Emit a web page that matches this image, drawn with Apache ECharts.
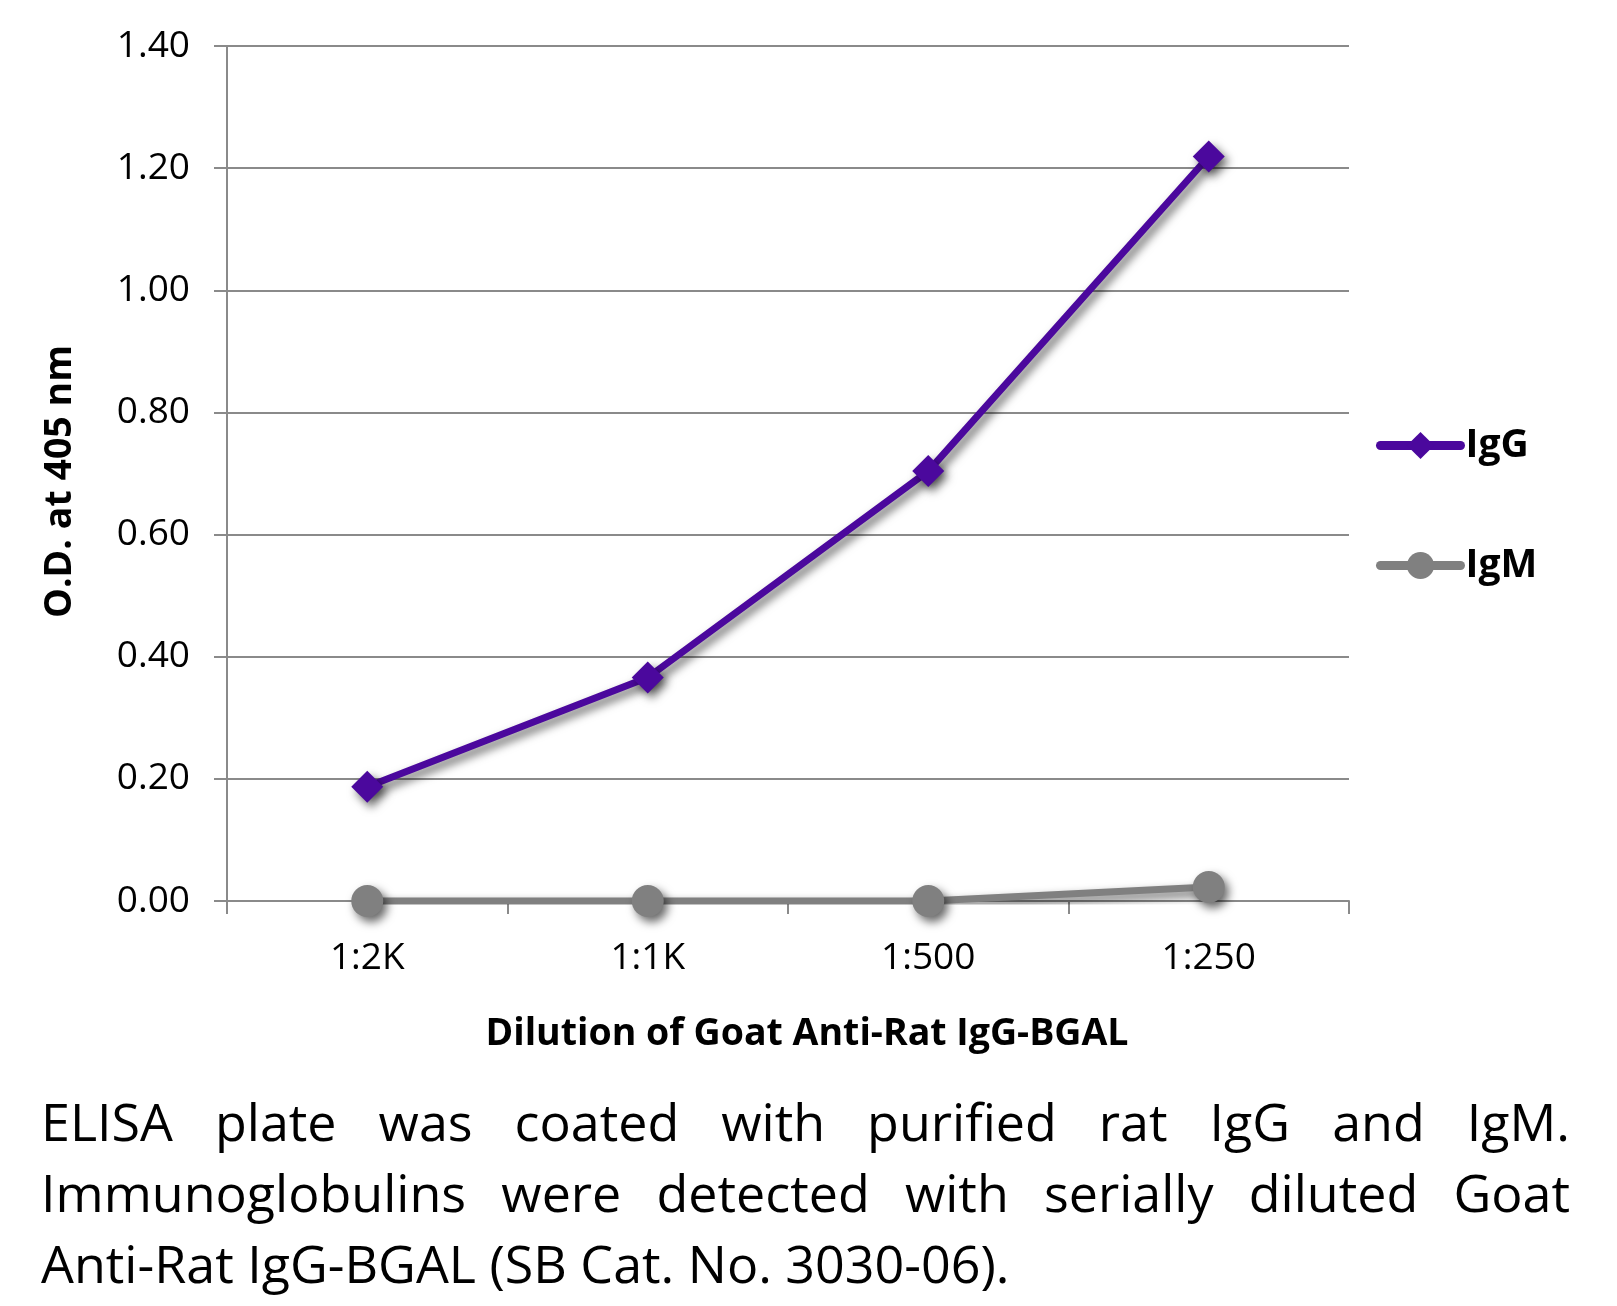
<!DOCTYPE html>
<html>
<head>
<meta charset="utf-8">
<script src="https://cdn.jsdelivr.net/npm/echarts@6/dist/echarts.min.js"></script>
<style>
  html, body { margin: 0; padding: 0; background: #fff; }
  #chart { position: absolute; left: 0; top: 0; width: 1617px; height: 1306px; }
  #caption {
    position: absolute; left: 41px; top: 1085px; width: 1529px;
    font-family: "Open Sans", sans-serif; font-size: 52px; line-height: 71px;
    color: #000;
  }
  #caption .j { white-space: nowrap; text-align: justify; text-align-last: justify; }
  #caption .l { white-space: nowrap; text-align: left; }
</style>
</head>
<body>
<div id="chart"></div>
<div id="caption">
  <div class="j">ELISA plate was coated with purified rat IgG and IgM.</div>
  <div class="j">Immunoglobulins were detected with serially diluted Goat</div>
  <div class="l">Anti-Rat IgG-BGAL (SB Cat. No. 3030-06).</div>
</div>
<script>
const categories = ['1:2K', '1:1K', '1:500', '1:250'];
const igG = [0.187, 0.366, 0.704, 1.219];
const igM = [0.000, 0.000, 0.000, 0.023];
const xTitle = 'Dilution of Goat Anti-Rat IgG-BGAL';
const yTitle = 'O.D. at 405 nm';

const FONT = '"Open Sans", sans-serif';
const GRID_COLOR = '#8a8a8a';
const IGG_COLOR = '#4b089d';
const IGM_COLOR = '#808080';
const shadow = { shadowColor: 'rgba(0,0,0,0.6)', shadowBlur: 10, shadowOffsetX: 4, shadowOffsetY: 5 };
const noShadow = { shadowBlur: 0, shadowColor: 'transparent', shadowOffsetX: 0, shadowOffsetY: 0 };

const chart = echarts.init(document.getElementById('chart'), null, { renderer: 'canvas' });
chart.setOption({
  animation: false,
  backgroundColor: '#fff',
  grid: { left: 227, right: 268, top: 46, bottom: 405, containLabel: false },
  legend: {
    orient: 'vertical',
    left: 1376,
    top: 426,
    padding: 0,
    itemWidth: 80,
    itemHeight: 34,
    itemGap: 81,
    data: ['IgG', 'IgM'],
    textStyle: { fontFamily: FONT, fontWeight: 'bold', fontSize: 39, color: '#000', lineHeight: 34 },
    lineStyle: Object.assign({ width: 9, cap: 'round' }, noShadow),
    itemStyle: noShadow
  },
  xAxis: {
    type: 'category',
    data: categories,
    boundaryGap: true,
    name: xTitle,
    nameLocation: 'middle',
    nameGap: 114,
    nameTextStyle: { fontFamily: FONT, fontWeight: 'bold', fontSize: 37.5, color: '#000', padding: [0, 0, 0, 38] },
    axisLine: { show: true, lineStyle: { color: GRID_COLOR, width: 2 } },
    axisTick: { show: true, length: 13, inside: false, alignWithLabel: false, lineStyle: { color: GRID_COLOR, width: 2 } },
    axisLabel: { fontFamily: FONT, fontSize: 37, color: '#000', margin: 39 },
    splitLine: { show: false }
  },
  yAxis: {
    type: 'value',
    min: 0,
    max: 1.4,
    interval: 0.2,
    name: yTitle,
    nameLocation: 'middle',
    nameRotate: 90,
    nameGap: 148,
    nameTextStyle: { fontFamily: FONT, fontWeight: 'bold', fontSize: 37.5, color: '#000', padding: [0, 16, 0, 0] },
    axisLine: { show: true, lineStyle: { color: GRID_COLOR, width: 2 } },
    axisTick: { show: true, length: 13, lineStyle: { color: GRID_COLOR, width: 2 } },
    axisLabel: { fontFamily: FONT, fontSize: 37, color: '#000', margin: 37, formatter: v => v.toFixed(2) },
    splitLine: { show: true, lineStyle: { color: GRID_COLOR, width: 2 } }
  },
  series: [
    {
      name: 'IgG',
      type: 'line',
      data: igG,
      symbol: 'diamond',
      symbolSize: 32,
      z: 3,
      lineStyle: Object.assign({ color: IGG_COLOR, width: 7 }, shadow),
      itemStyle: Object.assign({ color: IGG_COLOR }, shadow)
    },
    {
      name: 'IgM',
      type: 'line',
      data: igM,
      symbol: 'circle',
      symbolSize: 32,
      z: 2,
      lineStyle: Object.assign({ color: IGM_COLOR, width: 7 }, shadow),
      itemStyle: Object.assign({ color: IGM_COLOR }, shadow)
    }
  ]
});
</script>
</body>
</html>
